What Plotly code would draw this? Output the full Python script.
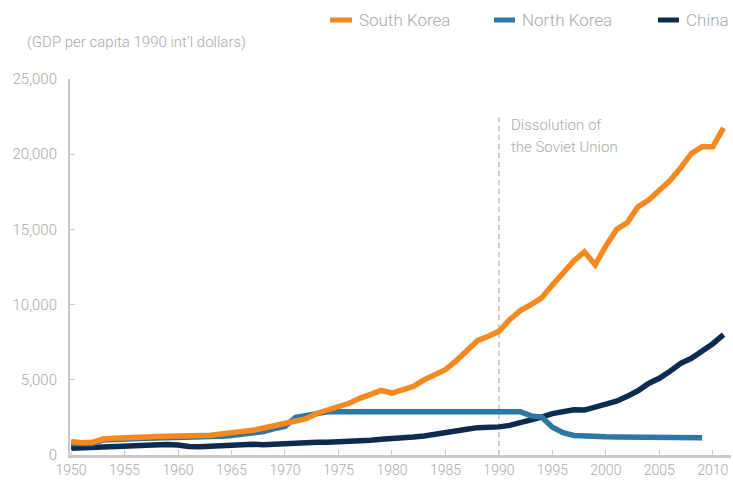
import plotly.graph_objects as go

years_sk = list(range(1950, 2012))
south_korea = [880, 810, 840, 1070, 1120, 1170, 1140, 1200, 1230, 1240,
               1230, 1250, 1250, 1320, 1390, 1440, 1570, 1640, 1800, 2010,
               2170, 2300, 2420, 2780, 3000, 3180, 3440, 3770, 4040, 4290,
               4120, 4300, 4560, 5000, 5370, 5670, 6260, 6900, 7600, 7900,
               8220, 9000, 9600, 10000, 10450, 11300, 12100, 12900, 13500, 12650,
               13900, 15000, 15450, 16500, 16950, 17600, 18250, 19100, 20050, 20500,
               20500, 21750]

years_nk = list(range(1950, 2010))
north_korea = [770, 720, 760, 1000, 1050, 1090, 1100, 1120, 1130, 1140,
               1150, 1160, 1170, 1200, 1250, 1300, 1370, 1440, 1560, 1750,
               1900, 2500, 2580, 2750, 2880, 2880, 2880, 2880, 2880, 2880,
               2880, 2880, 2880, 2880, 2880, 2880, 2880, 2880, 2880, 2880,
               2880, 2880, 2880, 2600, 2520, 1850, 1480, 1300, 1240, 1220,
               1210, 1200, 1190, 1180, 1170, 1160, 1155, 1150, 1140, 1140]

years_cn = list(range(1950, 2012))
china = [450, 490, 540, 550, 560, 580, 620, 640, 690, 700,
         670, 560, 550, 590, 650, 710, 750, 710, 680, 720,
         780, 800, 800, 840, 840, 870, 850, 900, 980, 1040,
         1070, 1100, 1190, 1270, 1400, 1520, 1600, 1710, 1820, 1830,
         1870, 1970, 2130, 2310, 2520, 2750, 2890, 3010, 2990, 3160,
         3420, 3580, 3900, 4270, 4760, 5100, 5570, 6100, 6430, 6900,
         7400, 8000]

series_names = ["South Korea", "North Korea", "China"]
x_ticks = list(range(1950, 2011, 5))
y_ticks = [0, 5000, 10000, 15000, 20000, 25000]
y_tick_labels = ["0", "5,000", "10,000", "15,000", "20,000", "25,000"]

event_year = 1990
event_top = 22500
event_lines = ["Dissolution of", "the Soviet Union"]
y_title = "(GDP per capita 1990 int\u2019l dollars)"

C_SK = "#F5891F"
C_NK = "#2E77A5"
C_CN = "#0D2B4E"
colors = [C_SK, C_NK, C_CN]
GRAY = "#a8a8a8"
FONT = "Helvetica Neue, Roboto, Liberation Sans, Arial"

# plot area in pixels
L, R, T, B = 70, 2, 79, 36
W, H = 733, 491
PW, PH = W - L - R, H - T - B


def px_x(px):
    return (px - L) / PW


def px_y(py):
    return (H - B - py) / PH


def tfont(size):
    return dict(family=FONT, size=size, color=GRAY, weight=300)


fig = go.Figure()
fig.add_trace(go.Scatter(x=years_cn, y=china, name="China", mode="lines",
                         line=dict(color=C_CN, width=5.5), showlegend=False))
fig.add_trace(go.Scatter(x=years_nk, y=north_korea, name="North Korea", mode="lines",
                         line=dict(color=C_NK, width=5.5), showlegend=False))
fig.add_trace(go.Scatter(x=years_sk, y=south_korea, name="South Korea", mode="lines",
                         line=dict(color=C_SK, width=5.5), showlegend=False))

fig.add_shape(type="line", xref="x", yref="y", x0=event_year, x1=event_year,
              y0=0, y1=event_top, line=dict(color="#a0a0a0", width=1, dash="5px,4px"),
              layer="below")
for txt, py in zip(event_lines, [125, 147]):
    fig.add_annotation(x=event_year, y=px_y(py), xref="x", yref="paper", text=txt,
                       showarrow=False, xanchor="left", yanchor="middle", xshift=10,
                       align="left", font=tfont(15))

fig.add_annotation(x=px_x(25), y=px_y(42), xref="paper", yref="paper", text=y_title,
                   showarrow=False, xanchor="left", yanchor="middle", font=tfont(15))

# manual legend (line swatch + label)
legend_px = [(330, 352, 357), (494, 515, 520), (658, 679, 684)]
for name, col, (a, b, t) in zip(series_names, colors, legend_px):
    fig.add_shape(type="line", xref="paper", yref="paper", x0=px_x(a), x1=px_x(b),
                  y0=px_y(20), y1=px_y(20), line=dict(color=col, width=5))
    fig.add_annotation(x=px_x(t), y=px_y(20), xref="paper", yref="paper", text=name,
                       showarrow=False, xanchor="left", yanchor="middle", font=tfont(17))

fig.update_layout(
    width=W, height=H,
    margin=dict(l=L, r=R, t=T, b=B, autoexpand=False),
    paper_bgcolor="white", plot_bgcolor="white",
    font=dict(family=FONT, color=GRAY),
    showlegend=False,
    xaxis=dict(range=[1949.9, 2011.7], tickvals=x_ticks, ticks="inside", ticklen=5,
               tickcolor="#c8c8c8", tickwidth=1, showline=True, linecolor="#c8c8c8",
               linewidth=3, showgrid=False, zeroline=False, automargin=False,
               tickfont=tfont(14)),
    yaxis=dict(range=[0, 25000], tickvals=y_ticks, ticktext=y_tick_labels,
               ticks="inside", ticklen=5, tickcolor="#c8c8c8", tickwidth=1,
               showline=True, linecolor="#c8c8c8", linewidth=2, showgrid=False,
               zeroline=False, ticklabelstandoff=8, automargin=False,
               tickfont=tfont(15)),
)

fig.write_html("out.html", config={"displayModeBar": False},
               post_script="document.body.style.margin='0';document.body.style.padding='0';")
